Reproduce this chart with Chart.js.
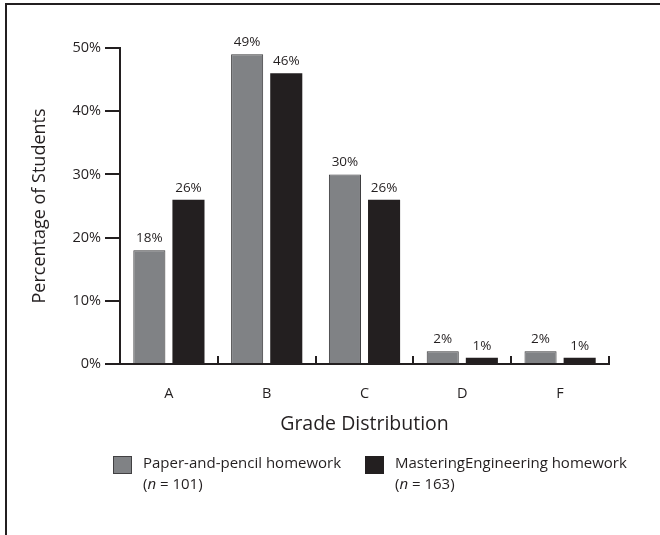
<!DOCTYPE html>
<html>
<head>
<meta charset="utf-8">
<script src="https://cdn.jsdelivr.net/npm/chart.js@4"></script>
<style>
  body { margin: 0; background: #fff; }
  canvas { display: block; }
</style>
</head>
<body>
<canvas id="gradeChart" width="660" height="535"></canvas>
<script>
let grades = ['A', 'B', 'C', 'D', 'F'],
    paperPencil = [18, 49, 30, 2, 2],
    mastering = [26, 46, 26, 1, 1],
    yTicks = [0, 10, 20, 30, 40, 50],
    seriesNames = ['Paper-and-pencil homework', 'MasteringEngineering homework'],
    seriesCounts = [101, 163]

let ink = '#231f20',
    grey = '#808285',
    fontName = '"Open Sans", "DejaVu Sans", sans-serif'

// frame, axis ticks, value labels, titles and legend
let extras = {
    id: 'extras',
    afterDraw(chart) {
        let ctx = chart.ctx,
            x = chart.scales.x,
            y = chart.scales.y,
            base = y.getPixelForValue(0)
        ctx.save()

        // frame (only top and left edges show)
        ctx.strokeStyle = ink
        ctx.lineWidth = 2
        ctx.beginPath()
        ctx.moveTo(6, 535)
        ctx.lineTo(6, 4)
        ctx.lineTo(660, 4)
        ctx.stroke()

        // small upward ticks between categories
        for (let i = 0; i <= grades.length; i++) {
            let px = Math.round(x.getPixelForValue(i - 0.5))
            ctx.beginPath()
            ctx.moveTo(px, base)
            ctx.lineTo(px, base - 8)
            ctx.stroke()
        }

        // value labels
        ctx.fillStyle = ink
        ctx.font = '13.5px ' + fontName
        ctx.textAlign = 'center'
        ctx.textBaseline = 'bottom'
        chart.data.datasets.forEach(function (ds, di) {
            chart.getDatasetMeta(di).data.forEach(function (bar, i) {
                ctx.fillText(ds.data[i] + '%', bar.x, bar.y - 5)
            })
        })

        // axis titles
        ctx.textBaseline = 'middle'
        ctx.font = '19.5px ' + fontName
        ctx.fillText('Grade Distribution', (x.left + x.right) / 2, 424)
        ctx.save()
        ctx.font = '18px ' + fontName
        ctx.translate(40, (y.top + y.bottom) / 2)
        ctx.rotate(-Math.PI / 2)
        ctx.fillText('Percentage of Students', 0, 0)
        ctx.restore()

        // legend
        let boxes = [
            { x: 113, fill: grey, stroke: '#414042' },
            { x: 365, fill: ink, stroke: ink }
        ]
        ctx.textAlign = 'left'
        boxes.forEach(function (b, i) {
            ctx.fillStyle = b.fill
            ctx.fillRect(b.x, 456, 19, 18)
            ctx.strokeStyle = b.stroke
            ctx.lineWidth = 1
            ctx.strokeRect(b.x + 0.5, 456.5, 18, 17)

            let tx = b.x + 30
            ctx.fillStyle = ink
            ctx.font = '15px ' + fontName
            ctx.fillText(seriesNames[i], tx, 464)
            let pieces = [['(', 'normal'], ['n', 'italic'], [' = ' + seriesCounts[i] + ')', 'normal']]
            pieces.forEach(function (p) {
                ctx.font = p[1] + ' 15px ' + fontName
                ctx.fillText(p[0], tx, 485)
                tx += ctx.measureText(p[0]).width
            })
        })
        ctx.restore()
    }
}

let ctx = document.getElementById('gradeChart').getContext('2d')
let gradeChart = new Chart(ctx, {
    type: 'bar',
    data: {
        labels: grades,
        datasets: [{
            label: seriesNames[0],
            data: paperPencil,
            backgroundColor: grey,
            borderColor: '#3a3a3c',
            borderWidth: 1,
            categoryPercentage: 0.8,
            barPercentage: 0.82
        }, {
            label: seriesNames[1],
            data: mastering,
            backgroundColor: ink,
            borderColor: ink,
            borderWidth: 0,
            categoryPercentage: 0.8,
            barPercentage: 0.82
        }]
    },
    options: {
        responsive: false,
        animation: false,
        layout: { padding: { left: 0, top: 48, right: 51, bottom: 0 } },
        plugins: {
            legend: { display: false },
            tooltip: { enabled: false }
        },
        scales: {
            x: {
                grid: { display: false, drawTicks: false },
                border: { display: true, color: ink, width: 2 },
                ticks: { color: ink, font: { family: fontName, size: 14.5 }, padding: 21 },
                afterFit: function (scale) { scale.height = 171 }
            },
            y: {
                min: 0,
                max: 50,
                afterBuildTicks: function (scale) {
                    scale.ticks = yTicks.map(function (v) { return { value: v } })
                },
                grid: { drawOnChartArea: false, drawTicks: true, tickLength: 15, color: ink, lineWidth: 2 },
                border: { display: true, color: ink, width: 2 },
                ticks: {
                    color: ink,
                    font: { family: fontName, size: 14.5 },
                    padding: 4,
                    callback: function (v) { return v + '%' }
                },
                afterFit: function (scale) { scale.width = 120 }
            }
        }
    },
    plugins: [extras]
})
</script>
</body>
</html>
